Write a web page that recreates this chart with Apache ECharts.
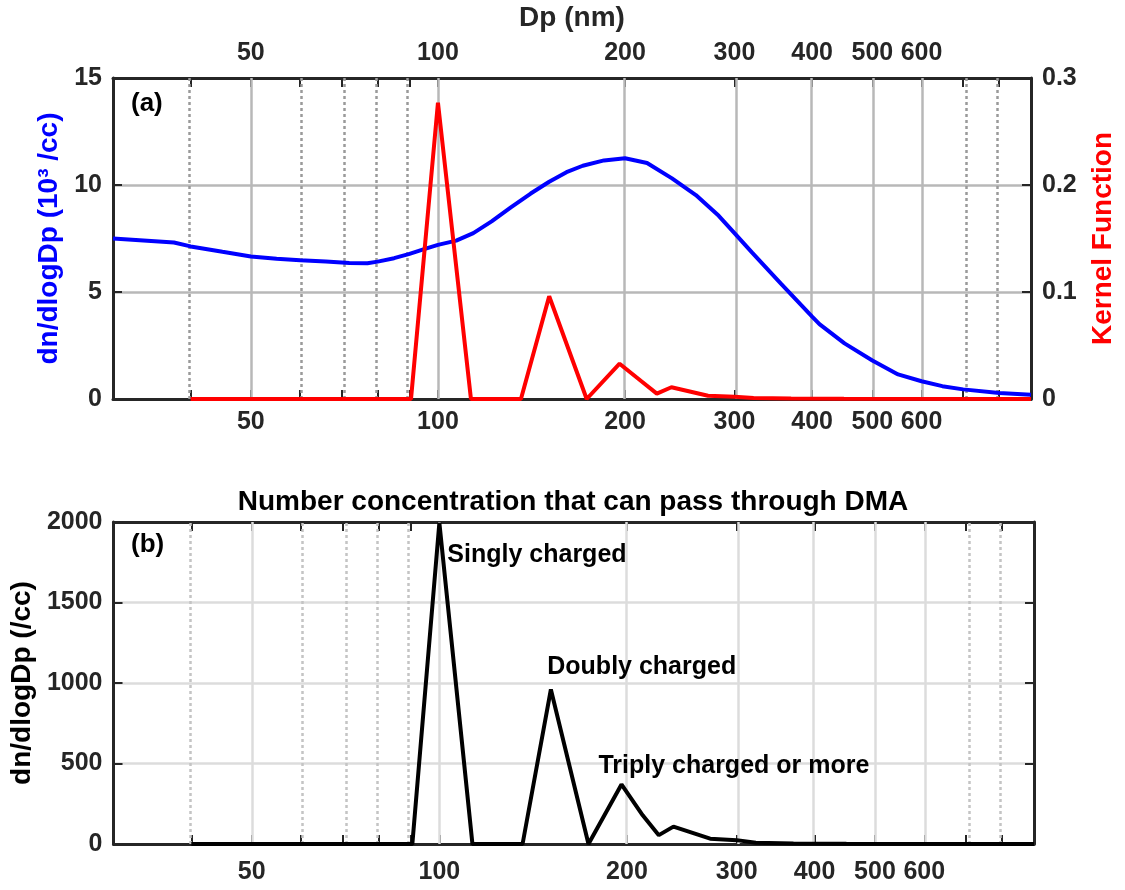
<!DOCTYPE html>
<html>
<head>
<meta charset="utf-8">
<script src="https://cdn.jsdelivr.net/npm/echarts@6/dist/echarts.min.js"></script>
<style>
html,body{margin:0;padding:0;background:#fff;}
#main{width:1125px;height:890px;}
</style>
</head>
<body>
<div id="main"></div>
<script>
// size distribution, panel (a) blue, 10^3 /cc
var dpSize = [30, 37.6, 40, 45, 50, 55, 60, 66, 72, 77, 80, 85, 90, 95, 100, 107, 114, 122, 131, 141, 151, 161, 171, 185, 200, 217, 238, 260, 283, 300, 320, 356, 400, 411, 451, 500, 550, 600, 648, 700, 800, 900];
var dnSize = [7.5, 7.31, 7.13, 6.88, 6.66, 6.55, 6.48, 6.42, 6.36, 6.34, 6.42, 6.58, 6.78, 7.0, 7.2, 7.4, 7.75, 8.3, 8.95, 9.6, 10.15, 10.6, 10.9, 11.15, 11.25, 11.03, 10.31, 9.53, 8.56, 7.75, 6.85, 5.4, 3.85, 3.5, 2.6, 1.8, 1.15, 0.83, 0.6, 0.45, 0.28, 0.2];

// kernel function, panel (a) red, and what passes the DMA, panel (b)
var dpKernel = [40, 90.5, 100, 113, 136, 151, 173.5, 196, 212, 225, 237.5, 272, 300, 322, 370, 450, 900];
var kernel = [0, 0, 0.277, 0, 0, 0.096, 0, 0.033, 0.017, 0.005, 0.011, 0.003, 0.002, 0.001, 0.0005, 0.0002, 0];
var dnPass = [0, 0, 1995, 0, 0, 960, 0, 370, 178, 55, 108, 33, 24, 8, 3, 1, 0];

// log x axis
var xRange = [30, 900];
var majorTicks = [50, 100, 200, 300, 400, 500, 600];
var minorTicks = [40, 60, 70, 80, 90, 700, 800];

// text notes in panel (b)
var noteText = ['Singly charged', 'Doubly charged', 'Triply charged or more'];
var noteDp = [103, 149, 180];
var noteVal = [1795, 1100, 485];

var FONT = '"Liberation Sans", Arial, sans-serif';
var AXC = '#262626';

function lg(v){ return Math.log10(v); }
function pairs(xs, ys){
    return xs.map(function(x, i){ return [lg(x), ys[i]]; });
}

function xAxisCfg(gridIndex, position, showLabel, margin){
    return {
        type: 'value', gridIndex: gridIndex, position: position, z: 3,
        min: lg(xRange[0]), max: lg(xRange[1]),
        axisLine: {show: true, onZero: false, lineStyle: {color: AXC, width: 3}},
        axisTick: {show: true, inside: true, length: 9, lineStyle: {color: AXC, width: 2},
            customValues: majorTicks.concat(minorTicks).map(lg)},
        axisLabel: {show: showLabel, customValues: majorTicks.map(lg), margin: margin,
            formatter: function(v){ return Math.round(Math.pow(10, v)); },
            color: AXC, fontSize: 25, fontWeight: 'bold', fontFamily: FONT},
        splitLine: {show: false}
    };
}

function yAxisCfg(gridIndex, position, max, interval, showLabel, gridColor){
    return {
        type: 'value', gridIndex: gridIndex, position: position, z: 3,
        min: 0, max: max, interval: interval,
        axisLine: {show: true, onZero: false, lineStyle: {color: AXC, width: 3}},
        axisTick: {show: true, inside: true, length: 9, lineStyle: {color: AXC, width: 2}},
        axisLabel: {show: showLabel, margin: 11, color: AXC, fontSize: 25, fontWeight: 'bold', fontFamily: FONT,
            formatter: function(v){ return String(+v.toFixed(2)); }},
        splitLine: {show: !!gridColor, lineStyle: {color: gridColor, width: 2.5}}
    };
}

function gridSeries(xi, yi, solidColor, dotColor){
    var lines = majorTicks.map(function(t){
        return {xAxis: lg(t), lineStyle: {color: solidColor, width: 2.5, type: 'solid'}};
    }).concat(minorTicks.map(function(t){
        return {xAxis: lg(t), lineStyle: {color: dotColor, width: 2.5, type: [3, 3]}};
    }));
    return {
        type: 'line', xAxisIndex: xi, yAxisIndex: yi, z: 1, silent: true,
        data: [[lg(xRange[0]), 0]], symbol: 'none', lineStyle: {opacity: 0},
        markLine: {silent: true, symbol: ['none', 'none'], label: {show: false}, animation: false, data: lines}
    };
}

var nameStyle = function(color){
    return {color: color, fontSize: 28, fontWeight: 'bold', fontFamily: FONT};
};

var yA = yAxisCfg(0, 'left', 15, 5, true, '#b8b8b8');
yA.name = 'dn/dlogDp (10\u00b3 /cc)';
yA.nameLocation = 'middle'; yA.nameRotate = 90; yA.nameGap = 45;
yA.nameTextStyle = nameStyle('#0000ff');

var yK = yAxisCfg(0, 'right', 0.3, 0.1, true, null);
yK.name = 'Kernel Function';
yK.nameLocation = 'middle'; yK.nameRotate = 90; yK.nameGap = 58;
yK.nameTextStyle = nameStyle('#ff0000');

var yB = yAxisCfg(1, 'left', 2000, 500, true, '#dcdcdc');
yB.name = 'dn/dlogDp (/cc)';
yB.nameLocation = 'middle'; yB.nameRotate = 90; yB.nameGap = 77;
yB.nameTextStyle = nameStyle('#000');

var yB2 = yAxisCfg(1, 'right', 2000, 500, false, null);

var xTopA = xAxisCfg(0, 'top', true, 12);
xTopA.name = 'Dp (nm)';
xTopA.nameLocation = 'middle'; xTopA.nameGap = 46;
xTopA.nameTextStyle = nameStyle(AXC);

var myChart = echarts.init(document.getElementById('main'));
var option = {
    animation: false,
    backgroundColor: '#fff',
    grid: [
        {left: 113, top: 78, width: 921, height: 321},
        {left: 113, top: 522, width: 921, height: 322}
    ],
    xAxis: [
        xAxisCfg(0, 'bottom', true, 11),
        xTopA,
        xAxisCfg(1, 'bottom', true, 16),
        xAxisCfg(1, 'top', false, 10)
    ],
    yAxis: [yA, yK, yB, yB2],
    graphic: [
        {type: 'text', x: 131, y: 104, style: {text: '(a)', fill: '#000', font: 'bold 26px ' + FONT, verticalAlign: 'middle'}},
        {type: 'text', x: 131, y: 545, style: {text: '(b)', fill: '#000', font: 'bold 26px ' + FONT, verticalAlign: 'middle'}},
        {type: 'text', x: 573, y: 502, style: {text: 'Number concentration that can pass through DMA', fill: '#000',
            font: 'bold 28px ' + FONT, align: 'center', verticalAlign: 'middle'}}
    ],
    series: [
        gridSeries(0, 0, '#b8b8b8', '#9a9a9a'),
        gridSeries(2, 2, '#dcdcdc', '#c4c4c4'),
        {
            name: 'dn/dlogDp', type: 'line', xAxisIndex: 0, yAxisIndex: 0, z: 5,
            data: pairs(dpSize, dnSize), symbol: 'none',
            lineStyle: {color: '#0000ff', width: 4}, itemStyle: {color: '#0000ff'}
        },
        {
            name: 'Kernel', type: 'line', xAxisIndex: 0, yAxisIndex: 1, z: 6,
            data: pairs(dpKernel, kernel), symbol: 'none',
            lineStyle: {color: '#ff0000', width: 4}, itemStyle: {color: '#ff0000'}
        },
        {
            name: 'Pass', type: 'line', xAxisIndex: 2, yAxisIndex: 2, z: 5,
            data: pairs(dpKernel, dnPass), symbol: 'none',
            lineStyle: {color: '#000', width: 4}, itemStyle: {color: '#000'}
        },
        {
            name: 'notes', type: 'scatter', xAxisIndex: 2, yAxisIndex: 2, z: 7,
            symbolSize: 0, silent: true, itemStyle: {opacity: 1},
            data: noteText.map(function(t, i){
                return {value: [lg(noteDp[i]), noteVal[i]],
                    label: {show: true, position: 'right', distance: 0, formatter: t, opacity: 1,
                        color: '#000', fontSize: 25, fontWeight: 'bold', fontFamily: FONT}};
            })
        }
    ]
};
myChart.setOption(option);
</script>
</body>
</html>
